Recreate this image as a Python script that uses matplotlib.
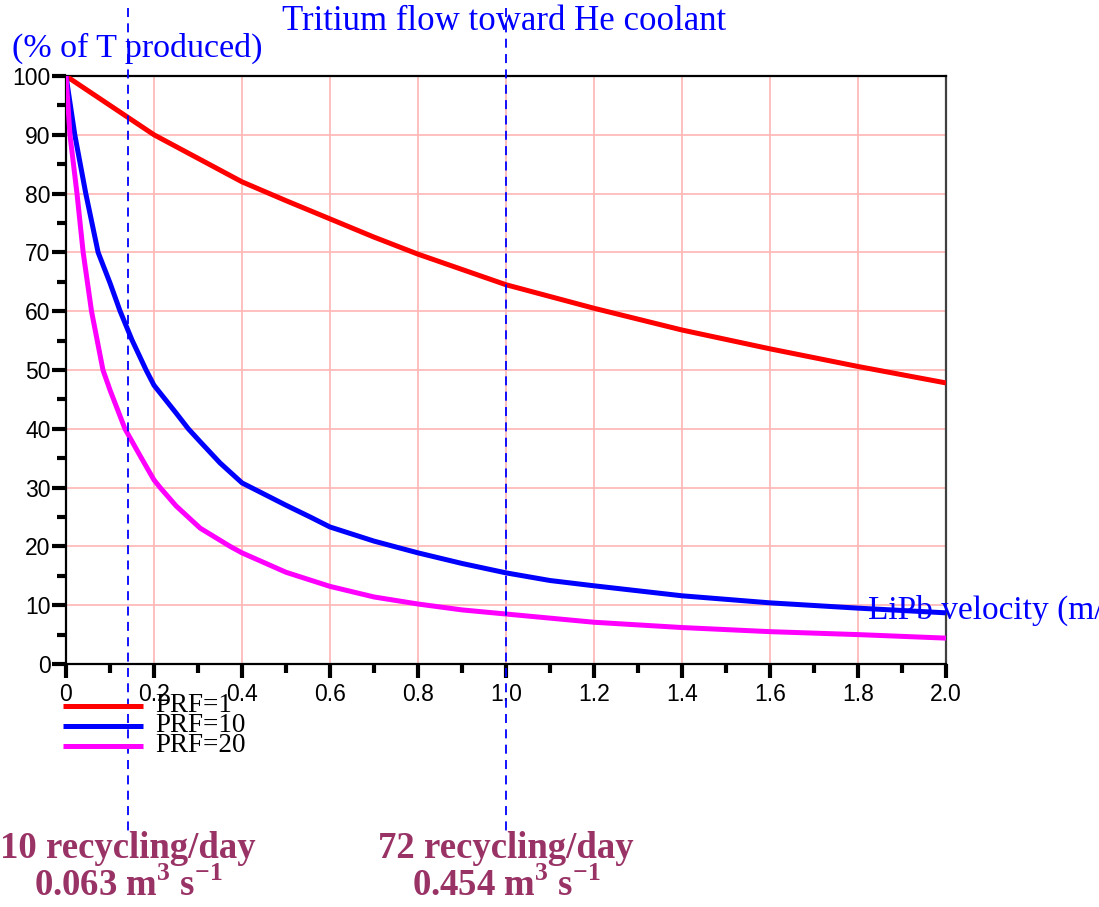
import matplotlib
matplotlib.use("Agg")
import matplotlib.pyplot as plt
from matplotlib.lines import Line2D
from matplotlib.ticker import MultipleLocator

plt.rcParams["mathtext.fontset"] = "custom"
plt.rcParams["mathtext.bf"] = "Liberation Serif:bold"
plt.rcParams["mathtext.rm"] = "Liberation Serif:bold"

# LiPb velocity (m/s) and tritium flow toward He coolant (% of T produced)
v_prf1 = [0, 0.02, 0.05, 0.1, 0.15, 0.2, 0.3, 0.4, 0.5, 0.6, 0.7, 0.8, 0.9,
          1.0, 1.2, 1.4, 1.6, 1.8, 2.0]
t_prf1 = [100, 99, 97.5, 95, 92.5, 90, 86, 82, 78.8, 75.7, 72.6, 69.7, 67.1,
          64.5, 60.5, 56.8, 53.6, 50.6, 47.8]

v_prf10 = [0, 0.02, 0.045, 0.073, 0.1, 0.123, 0.15, 0.182, 0.2, 0.25, 0.278,
           0.305, 0.35, 0.4, 0.5, 0.555, 0.6, 0.7, 0.8, 0.9, 1.0, 1.1, 1.2,
           1.4, 1.6, 1.8, 2.0]
t_prf10 = [100, 90, 80, 70, 64.8, 60, 55.1, 50, 47.4, 42.7, 40, 37.8, 34.2,
           30.8, 27, 25, 23.3, 20.9, 18.9, 17.1, 15.5, 14.2, 13.3, 11.6, 10.4,
           9.5, 8.7]

v_prf20 = [0, 0.009, 0.025, 0.039, 0.058, 0.084, 0.1, 0.134, 0.17, 0.2, 0.214,
           0.25, 0.305, 0.373, 0.4, 0.5, 0.6, 0.7, 0.8, 0.9, 1.0, 1.2, 1.4,
           1.6, 1.8, 2.0]
t_prf20 = [100, 90, 80, 70, 60, 50, 46.6, 40, 35.2, 31.3, 30, 26.9, 23.1, 20,
           18.9, 15.6, 13.2, 11.4, 10.2, 9.2, 8.5, 7.1, 6.2, 5.5, 5.0, 4.4]

series_labels = ["PRF=1", "PRF=10", "PRF=20"]
series_colors = ["#ff0000", "#0000ff", "#ff00ff"]

# recycling rates marked on the velocity axis
mark_v = [0.141, 1.0]
mark_line1 = ["10 recycling/day", "72 recycling/day"]
mark_line2 = [r"0.063 m$^{\mathbf{3}}$ s$^{\mathbf{-1}}$",
              r"0.454 m$^{\mathbf{3}}$ s$^{\mathbf{-1}}$"]

W, H = 1099, 907
fig = plt.figure(figsize=(W / 100, H / 100), dpi=100)


def fx(px):
    return px / W


def fy(py):
    return 1 - py / H


ax = fig.add_axes([fx(66), fy(664), fx(946) - fx(66), fy(76) - fy(664)])
ax.set_xlim(0, 2.0)
ax.set_ylim(0, 100)

ax.xaxis.set_minor_locator(MultipleLocator(0.1))
ax.yaxis.set_minor_locator(MultipleLocator(5))
ax.grid(True, which="major", color="#ffb4b4", lw=1.2)
ax.set_axisbelow(True)

ax.set_xticks([0, 0.2, 0.4, 0.6, 0.8, 1.0, 1.2, 1.4, 1.6, 1.8, 2.0])
ax.set_xticklabels(["0", "0.2", "0.4", "0.6", "0.8", "1.0", "1.2", "1.4",
                    "1.6", "1.8", "2.0"])
ax.set_yticks(range(0, 101, 10))
ax.set_yticklabels([str(v) for v in range(0, 101, 10)])

ax.tick_params(which="major", direction="out", length=10, width=3,
               labelsize=16.5, color="black")
ax.tick_params(axis="y", which="major", pad=1)
ax.tick_params(axis="x", which="major", pad=4)
ax.tick_params(which="minor", direction="out", length=6.5, width=3,
               color="black")
for lab in ax.get_xticklabels() + ax.get_yticklabels():
    lab.set_family("Liberation Sans")

for side in ["left", "bottom", "top"]:
    ax.spines[side].set_linewidth(1.6)
    ax.spines[side].set_color("black")
ax.spines["right"].set_linewidth(1.6)
ax.spines["right"].set_color("#404040")

for vx, ty, c in zip([v_prf1, v_prf10, v_prf20], [t_prf1, t_prf10, t_prf20],
                     series_colors):
    ax.plot(vx, ty, color=c, lw=3.6, solid_capstyle="butt",
            solid_joinstyle="round", zorder=3)

# dashed markers running from the title down to the annotations
for v in mark_v:
    ax.plot([v, v], [111.5, -28.5], color="#0000ff", lw=1.3,
            ls=(0, (5, 3.5)), clip_on=False, zorder=4)

blue_serif = dict(color="#0000ff", family="Liberation Serif")
fig.text(fx(282), fy(22), "Tritium flow toward He coolant", fontsize=25,
         ha="left", va="center", **blue_serif)
fig.text(fx(12), fy(48), "(% of T produced)", fontsize=24.5, ha="left",
         va="center", **blue_serif)
fig.text(fx(868), fy(610), "LiPb velocity (m/s)", fontsize=24, ha="left",
         va="center", **blue_serif)

# legend drawn below the axis
leg_y = [706, 726, 746]
for yy, lab, c in zip(leg_y, series_labels, series_colors):
    fig.add_artist(Line2D([fx(63), fx(143)], [fy(yy), fy(yy)], color=c,
                          lw=3.6, solid_capstyle="butt"))
    fig.text(fx(155), fy(yy), lab, fontsize=19.5, family="Liberation Serif",
             ha="left", va="center", color="black")

maroon = "#993366"
for v, l1, l2 in zip(mark_v, mark_line1, mark_line2):
    cx = 66 + v * 440
    fig.text(fx(cx), fy(848), l1, fontsize=26.5, fontweight="bold",
             family="Liberation Serif", color=maroon, ha="center",
             va="center")
    fig.text(fx(cx), fy(886), l2, fontsize=26.5, fontweight="bold",
             family="Liberation Serif", color=maroon, ha="center",
             va="center")

fig.savefig("out.png", dpi=100)
